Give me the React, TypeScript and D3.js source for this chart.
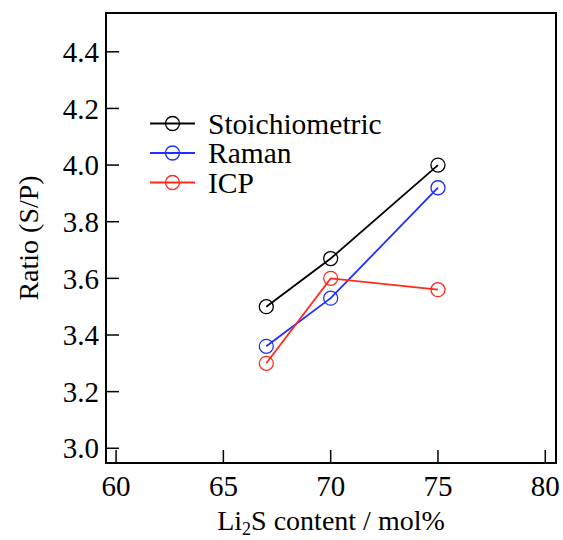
import React from "react";
import * as d3 from "d3";

const contents = [67, 70, 75];
const stoichiometric = [3.5, 3.67, 4.0];
const raman = [3.36, 3.53, 3.92];
const icp = [3.3, 3.6, 3.56];
const xTicks = [60, 65, 70, 75, 80];
const yTicks = [3.0, 3.2, 3.4, 3.6, 3.8, 4.0, 4.2, 4.4];

const series = [
  { name: "Stoichiometric", values: stoichiometric, color: "#000000" },
  { name: "Raman", values: raman, color: "#1f2fff" },
  { name: "ICP", values: icp, color: "#ff2a1a" },
];

const W = 563;
const H = 540;
const margin = { top: 13, right: 7, bottom: 77, left: 106 };
const font = "Liberation Serif";
const txt = { fontFamily: font };

export default function App() {
  const innerW = W - margin.left - margin.right;
  const innerH = H - margin.top - margin.bottom;

  const x = d3.scaleLinear().domain([59.53, 80.5]).range([0, innerW]);
  const y = d3.scaleLinear().domain([2.948, 4.537]).range([innerH, 0]);

  const line = d3
    .line<[number, number]>()
    .x((d) => x(d[0]))
    .y((d) => y(d[1]));

  const tickLen = 13;

  return (
    <svg
      width={W}
      height={H}
      style={{ position: "absolute", left: 0, top: 0, fontFamily: font }}
    >
      <rect width={W} height={H} fill="#fff" />
      <g transform={`translate(${margin.left},${margin.top})`}>
        {/* x ticks, inward */}
        {xTicks.map((t) => (
          <g key={"x" + t}>
            <line
              x1={x(t)}
              x2={x(t)}
              y1={innerH}
              y2={innerH - tickLen}
              stroke="#000"
              strokeWidth={1.5}
            />
            <text
              x={x(t)}
              y={innerH + 33}
              textAnchor="middle"
              fontSize={29}
              fill="#000"
              style={txt}
            >
              {t}
            </text>
          </g>
        ))}
        {/* y ticks, inward */}
        {yTicks.map((t) => (
          <g key={"y" + t}>
            <line
              x1={0}
              x2={tickLen}
              y1={y(t)}
              y2={y(t)}
              stroke="#000"
              strokeWidth={1.5}
            />
            <text
              x={-7}
              y={y(t)}
              dy="0.35em"
              textAnchor="end"
              fontSize={29}
              fill="#000"
              style={txt}
            >
              {t.toFixed(1)}
            </text>
          </g>
        ))}

        {series.map((s) => {
          const pts = contents.map((c, i) => [c, s.values[i]] as [number, number]);
          return (
            <g key={s.name}>
              <path d={line(pts) ?? ""} fill="none" stroke={s.color} strokeWidth={1.8} />
              {pts.map((p, i) => (
                <circle
                  key={i}
                  cx={x(p[0])}
                  cy={y(p[1])}
                  r={7}
                  fill="none"
                  stroke={s.color}
                  strokeWidth={1.3}
                />
              ))}
            </g>
          );
        })}

        {/* legend */}
        {series.map((s, i) => {
          const ly = 110.5 + i * 29.5;
          return (
            <g key={"lg" + s.name}>
              <line x1={44} x2={89} y1={ly} y2={ly} stroke={s.color} strokeWidth={1.8} />
              <circle cx={66.5} cy={ly} r={7} fill="none" stroke={s.color} strokeWidth={1.3} />
              <text x={102} y={ly} dy="0.35em" fontSize={29.5} fill="#000" style={txt}>
                {s.name}
              </text>
            </g>
          );
        })}

        <rect
          x={0}
          y={0}
          width={innerW}
          height={innerH}
          fill="none"
          stroke="#000"
          strokeWidth={2}
        />
      </g>

      <text
        transform={`translate(38,${margin.top + innerH / 2}) rotate(-90)`}
        textAnchor="middle"
        fontSize={28}
        fill="#000"
        style={txt}
      >
        Ratio (S/P)
      </text>
      <text
        x={margin.left + innerW / 2}
        y={530}
        textAnchor="middle"
        fontSize={28}
        fill="#000"
        style={txt}
      >
        Li<tspan fontSize={18} dy={5}>2</tspan>
        <tspan dy={-5}>S content / mol%</tspan>
      </text>
    </svg>
  );
}
